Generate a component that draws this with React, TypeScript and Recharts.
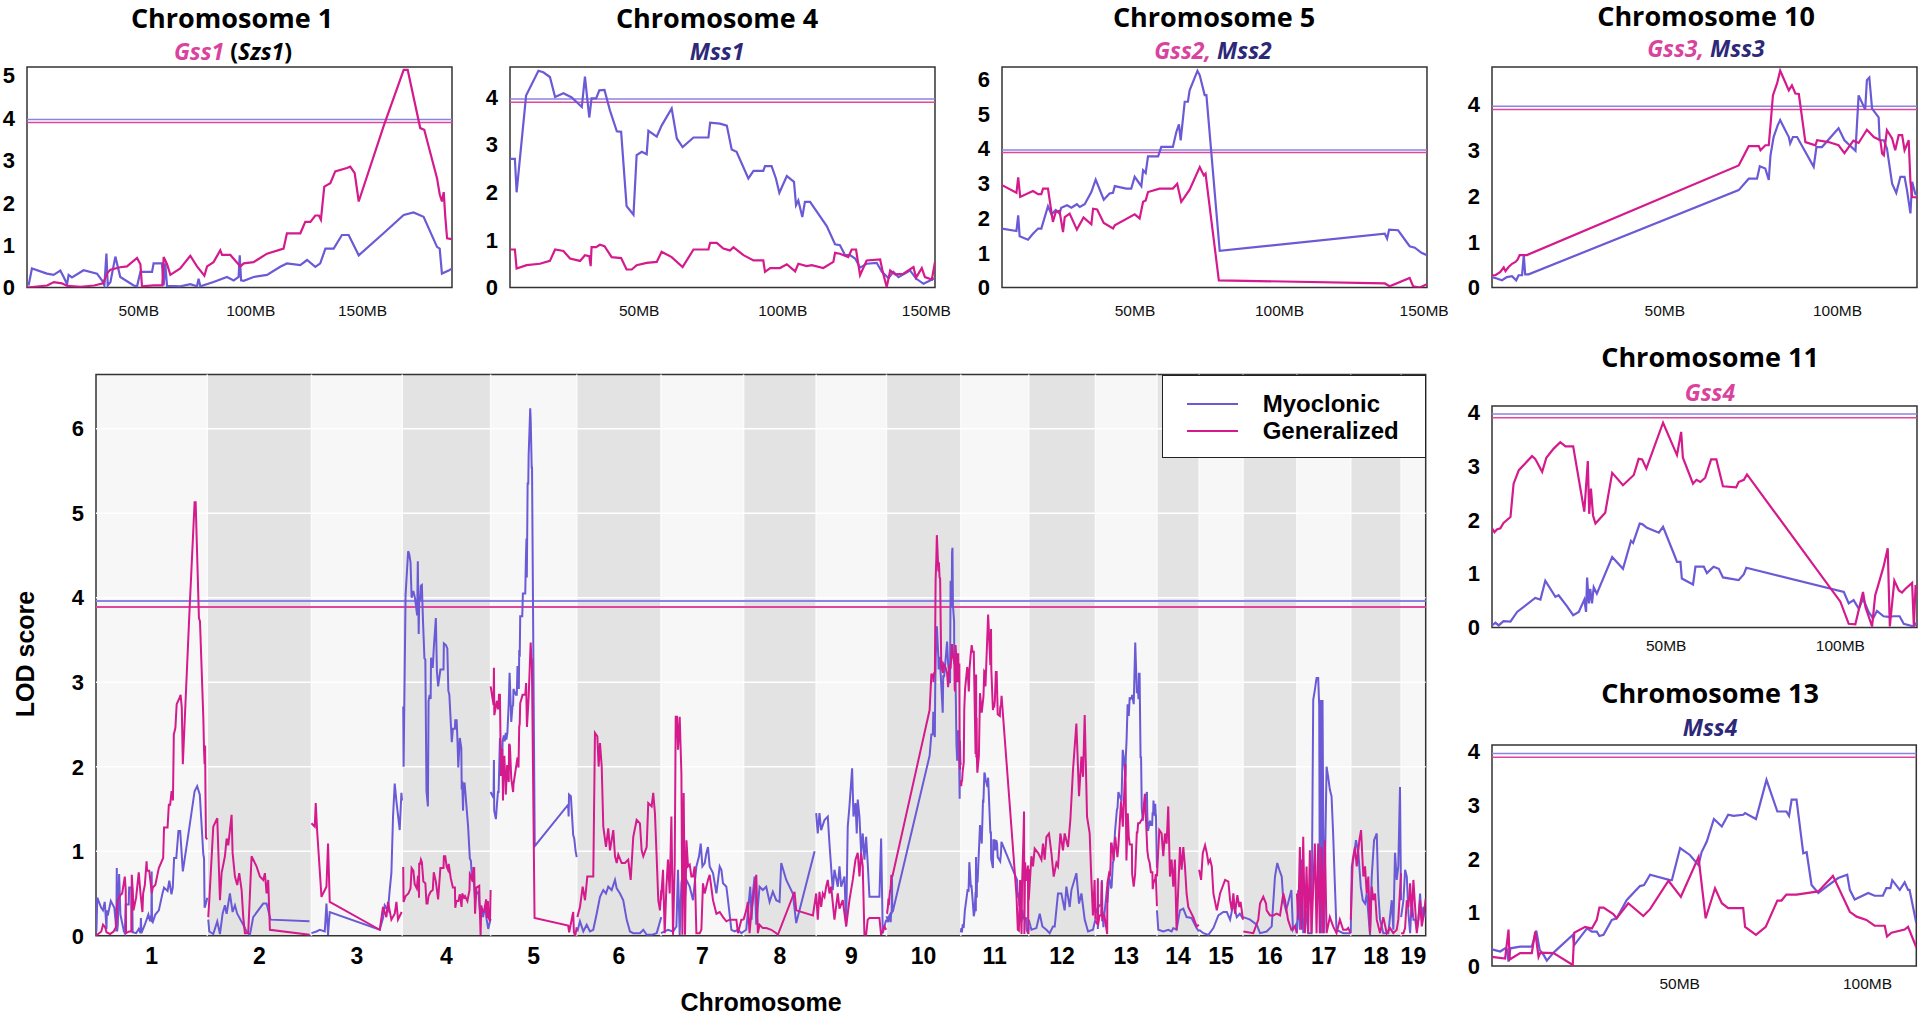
import React from 'react';
import { LineChart, Line, XAxis, YAxis, ReferenceLine, ReferenceArea } from 'recharts';

type Pt = [number, number];

const MYO = '#6a5ad6';
const GEN = '#d41a8c';
const MYO_THR = '#8c82e3';
const GEN_THR = '#e0479b';
const ARIAL = "'Liberation Sans', Arial, Helvetica, sans-serif";
const TITLE = "'Open Sans', 'Liberation Sans', sans-serif";

// significance thresholds
const myoThreshold = 3.96;
const genThreshold = 3.89;

// chromosome lengths used on the genome-wide axis (Mb)
const chrNames = ['1', '2', '3', '4', '5', '6', '7', '8', '9', '10', '11', '12', '13', '14', '15', '16', '17', '18', '19'];
const chrLen = [190, 178, 155, 151, 147, 144, 141, 124, 120, 127, 116, 114, 105, 72, 75, 92, 92, 86, 42];

// ---- chromosomes with a zoomed panel (x in Mb of the panel) ----
const chr1Myo: Pt[] = [[0.7,0.05],[2.2,0.45],[8.9,0.33],[11.9,0.3],[14.9,0.4],[16.4,0.25],[17.9,0.08],[18.6,0.3],[20.1,0.24],[25.3,0.41],[31.3,0.33],[33.5,0.17],[34.6,0.05],[35.5,0.8],[36.1,0.05],[37.3,0.13],[39.5,0.73],[41.7,0.25],[47.7,0.05],[49.2,0.03],[50.7,0.37],[55.9,0.37],[56.6,0.57],[60.3,0.57],[61.1,0.05],[61.8,0.57],[62.6,0.04],[68.5,0.03],[73,0.08],[76,0.03],[76.7,0.21],[77.5,0.03],[83.4,0.13],[89.4,0.25],[92.4,0.17],[94.6,0.25],[95.1,0.76],[95.7,0.17],[96.9,0.16],[101.3,0.25],[107.3,0.3],[113.2,0.49],[116.2,0.57],[122.2,0.53],[125.2,0.65],[128.9,0.49],[131.1,0.57],[133.4,0.92],[137.1,0.92],[140.8,1.24],[143.8,1.24],[148.3,0.76],[159.4,1.28],[168.4,1.71],[172.8,1.77],[177.3,1.67],[183.3,0.96],[184.5,0.92],[185.5,0.33],[188.5,0.4],[190,0.45]];
const chr1Gen: Pt[] = [[0,0],[9,0.05],[12,0.13],[15.6,0.1],[18,0.04],[24,0.02],[30,0.05],[34,0.1],[36,0.35],[37.3,0.42],[41.7,0.48],[44.7,0.5],[49.2,0.7],[50.7,0.55],[51.4,0.03],[56.6,0.05],[60.5,0.05],[61.1,0.72],[62.6,0.55],[64.1,0.3],[68.5,0.45],[73,0.75],[76,0.5],[79.3,0.28],[80.5,0.5],[83.4,0.6],[86.4,0.88],[87.2,0.77],[90.9,0.77],[95.4,0.5],[96.9,0.57],[101.3,0.6],[107.3,0.8],[114.7,0.92],[116.2,1.28],[122.2,1.28],[124.4,1.55],[126.7,1.55],[128.9,1.7],[130.5,1.7],[131.4,1.6],[132.9,2.38],[135.6,2.46],[137.8,2.74],[143,2.82],[144.5,2.85],[146.5,2.7],[148.3,2.03],[159.4,3.8],[168.4,5.13],[170.2,5.13],[175.8,3.76],[177.6,3.72],[183.3,2.58],[184.5,2.2],[185.5,2.03],[186.3,2.25],[187,1.67],[187.8,1.16],[190,1.14]];

const chr4Myo: Pt[] = [[5,2.7],[6.7,2.7],[7.3,2.0],[10.6,4.03],[14.9,4.55],[16.6,4.52],[18.9,4.42],[20.7,4.0],[23.6,4.08],[26.5,3.99],[30,3.79],[31.1,4.43],[32.6,3.57],[33.4,3.97],[35,3.97],[36.1,4.14],[37.9,4.15],[39.8,3.72],[42.2,3.28],[43.7,3.27],[45.6,1.71],[48,1.53],[49.1,2.78],[50.9,2.85],[52.6,2.8],[53.2,3.29],[56.1,3.17],[57.8,3.4],[61.3,3.76],[63.1,3.13],[65.1,2.95],[68.9,3.15],[74.1,3.15],[74.7,3.46],[78.1,3.44],[80.5,3.4],[82.2,2.9],[83.9,2.85],[88,2.29],[89.8,2.45],[93.2,2.45],[93.8,2.55],[96.1,2.55],[97.6,2.29],[98.8,1.99],[101.4,2.34],[103.9,2.22],[104.6,1.73],[105.4,1.83],[106.8,1.48],[107.7,1.8],[109.5,1.8],[115.3,1.29],[118.2,0.91],[119.9,0.89],[121.7,0.68],[123.4,0.68],[125.2,0.61],[126.9,0.42],[129.2,0.5],[132.7,0.52],[134.5,0.33],[136.8,0.2],[138.5,0.33],[140.3,0.22],[144.3,0.36],[146.4,0.19],[149,0.08],[151.3,0.15],[153,0.2]];
const chr4Gen: Pt[] = [[5,0.8],[6.7,0.8],[7.3,0.4],[10.8,0.47],[15.4,0.5],[18.9,0.56],[20.7,0.8],[23.6,0.77],[25.9,0.61],[29.4,0.56],[31.1,0.68],[32.6,0.66],[33.1,0.45],[33.4,0.85],[35,0.85],[36.3,0.9],[37.9,0.87],[40.4,0.64],[43.7,0.62],[45.6,0.38],[47.4,0.38],[49.1,0.47],[52.6,0.52],[56.1,0.54],[57.8,0.75],[61.3,0.64],[65.1,0.43],[68.9,0.8],[74.1,0.8],[74.7,0.94],[77,0.94],[79.3,0.82],[81.6,0.78],[82.8,0.85],[86.3,0.68],[89.8,0.57],[93.2,0.57],[93.8,0.33],[95.6,0.41],[99,0.41],[101.4,0.49],[104.3,0.34],[105.4,0.5],[108.3,0.45],[110.1,0.47],[114.1,0.41],[117.6,0.54],[118.2,0.73],[119.9,0.71],[122.8,0.64],[124,0.8],[125.5,0.8],[126.9,0.26],[129.2,0.57],[133.9,0.59],[134.8,0.33],[136.2,0.01],[137.4,0.36],[139.1,0.28],[142,0.29],[145.5,0.43],[146.4,0.21],[148.4,0.41],[149.5,0.22],[151.9,0.17],[153,0.54]];

const chr5Myo: Pt[] = [[4,1.7],[9,1.63],[9.6,2.08],[10.1,1.48],[13,1.38],[14.7,1.55],[16.5,1.7],[17.6,1.7],[19.9,2.34],[21.1,2.11],[22.6,2.23],[23.9,2.13],[24.5,2.3],[26.5,2.37],[28,2.3],[29.9,2.4],[30.9,2.32],[32.6,2.4],[34.9,2.75],[36.4,3.11],[39.2,2.53],[41.2,2.71],[42.4,2.73],[43,2.92],[47,2.85],[48.7,2.85],[49.9,3.19],[52.2,2.92],[52.8,3.38],[53.7,3.3],[54.5,3.78],[58,3.78],[59.1,4.05],[63.1,4.05],[64.3,4.48],[65.2,4.7],[65.8,4.24],[67.2,5.35],[68.3,5.35],[68.9,5.68],[71.6,6.24],[72.4,6.11],[74.1,5.54],[74.7,5.54],[79.3,1.06],[136.4,1.55],[137.2,1.41],[137.9,1.67],[141,1.65],[145,1.19],[146.8,1.15],[149.1,1.0],[151,0.93]];
const chr5Gen: Pt[] = [[4,2.95],[9,2.73],[9.6,3.17],[10.3,2.61],[14.7,2.78],[16.5,2.69],[17.6,2.69],[18.2,2.85],[19.9,2.85],[21.6,1.89],[22.6,2.18],[23.9,2.21],[25.1,1.6],[25.7,2.03],[27.4,2.13],[29.9,1.67],[32.2,2.02],[34.9,1.82],[35.5,2.27],[36.9,2.25],[39.2,1.86],[42.4,1.7],[43,1.79],[49.9,2.11],[51.6,1.99],[52.8,2.47],[53.7,2.51],[54.5,2.75],[58.5,2.85],[63.1,2.85],[64.6,2.99],[66,2.47],[67.2,2.61],[68.9,2.82],[72.4,3.47],[73.8,3.23],[74.4,3.28],[79,0.21],[136.4,0.12],[138.1,0.04],[145,0.28],[146.2,0.04],[148.5,0],[151,0.1]];

const chr10Myo: Pt[] = [[0,0.23],[1.4,0.2],[2.9,0.16],[4.3,0.23],[5.8,0.25],[7,0.16],[7.7,0.27],[8.7,0.27],[9.2,0.71],[9.6,0.29],[10.6,0.29],[71.4,2.13],[74.3,2.38],[76.7,2.38],[77.5,2.65],[79.1,2.6],[80.1,2.35],[80.6,2.89],[81.5,3.29],[82.7,3.55],[83.4,3.66],[84.4,3.51],[85.9,3.29],[86.3,3.15],[87.1,3.29],[88.3,3.29],[93.1,2.64],[93.9,3.07],[95.5,3.07],[100.3,3.48],[102,3.22],[105.2,2.99],[106.1,4.2],[108,3.89],[108.5,4.53],[109.2,4.59],[110,3.91],[111.9,3.72],[112.2,3.22],[113.4,3.22],[114.3,3.04],[115.8,2.27],[117,2.07],[118.2,2.42],[119.4,2.42],[120.1,2.13],[121.1,1.62],[121.6,2.31],[122.5,2.05],[123,2.02]];
const chr10Gen: Pt[] = [[0,0.27],[1,0.27],[2.4,0.34],[3.4,0.44],[3.9,0.36],[4.8,0.45],[5.8,0.52],[6.8,0.56],[7.4,0.61],[8,0.71],[9.2,0.71],[10.1,0.71],[71.4,2.67],[74.3,3.09],[77.2,3.09],[77.7,3.0],[79.1,3.11],[80.1,3.11],[80.6,3.55],[81.3,4.2],[82.5,4.46],[83.4,4.74],[84.4,4.57],[85.9,4.31],[86.8,4.42],[87.8,4.24],[88.8,4.23],[90.7,3.18],[93.6,3.11],[94.1,3.22],[97.4,3.18],[100.3,3.11],[102,2.94],[104.6,3.21],[106.1,3.16],[108.5,3.45],[110.5,3.29],[112.4,3.22],[112.9,2.93],[113.4,2.89],[114.3,3.44],[115.8,3.26],[116.7,3.0],[117.7,3.33],[118.7,3.33],[119.4,3.0],[120.6,3.22],[121.1,2.31],[121.6,1.98],[123,1.97]];

const chr11Myo: Pt[] = [[0,0.04],[1,0.09],[1.9,0.04],[3.3,0.12],[5.3,0.11],[7.2,0.29],[12.4,0.55],[13.9,0.52],[15.3,0.87],[18.2,0.57],[19.1,0.6],[21.5,0.4],[23.3,0.23],[24.9,0.29],[26.5,0.52],[27,0.29],[27.3,0.93],[27.8,0.45],[28.2,0.72],[28.7,0.45],[29.2,0.75],[30.1,0.63],[34.5,1.31],[37.6,1.09],[39.9,1.61],[40.5,1.57],[42.4,1.93],[43.1,1.92],[44.5,1.85],[47.9,1.76],[49.1,1.87],[52.2,1.37],[53.1,1.22],[54.1,1.22],[54.5,0.91],[57.7,0.8],[58.4,1.13],[60.8,1.13],[61.7,1.01],[63.6,1.13],[65.1,1.09],[66.3,0.93],[70.8,0.88],[72.3,0.99],[73,1.11],[101,0.66],[102.4,0.45],[103.8,0.51],[105.3,0.35],[106.5,0.54],[108.1,0.29],[109.4,0.17],[110.5,0.31],[112.4,0.21],[113.9,0.2],[115.3,0.21],[117,0.21],[118.2,0.07],[121.1,0.02],[122,0.1]];
const chr11Gen: Pt[] = [[0,1.84],[0.7,1.77],[1.4,1.82],[2.4,1.84],[3.3,1.94],[5.3,2.05],[6.2,2.67],[7.7,2.92],[11.5,3.18],[12.4,3.13],[14.4,2.89],[15.6,3.15],[17.7,3.32],[19.6,3.44],[21.1,3.36],[23.3,3.36],[26.5,2.15],[27.5,3.09],[27.9,2.11],[28.4,2.58],[29,2.08],[29.7,1.93],[32.5,2.13],[34.5,2.87],[37.6,2.64],[40.7,2.83],[42.1,3.13],[43.1,3.12],[44.3,2.95],[49.1,3.8],[53.1,3.2],[54.3,3.63],[54.8,3.15],[57.7,2.67],[58.7,2.74],[59.8,2.7],[61.2,2.78],[62.9,3.12],[64.4,3.12],[66.3,2.62],[70.1,2.6],[70.8,2.7],[72.3,2.74],[73.2,2.84],[100,0.48],[102.4,0.07],[104.3,0.06],[106.5,0.66],[107.2,0.38],[109.1,0.02],[110,0.6],[110.7,0.75],[112.4,1.13],[113.6,1.47],[114.2,0.02],[115.5,0.87],[116.8,0.69],[117.7,0.65],[118.7,0.72],[120.6,0.83],[121.1,0.02],[121.6,0.79],[122,0.57]];

const chr13Myo: Pt[] = [[0,0.31],[2.2,0.27],[3.5,0.33],[4,0.31],[4.4,0.08],[4.9,0.33],[7.5,0.36],[10.6,0.36],[11.8,0.66],[12.7,0.3],[13.7,0.21],[14.6,0.1],[16.4,0.25],[21.5,0.58],[21.9,0.39],[25.3,0.7],[26.6,0.64],[27.9,0.64],[28.6,0.56],[29.7,0.58],[31.9,0.86],[33.2,0.89],[35.9,1.23],[39.4,1.49],[40.5,1.51],[42.1,1.7],[47.4,1.6],[47.9,1.6],[50.1,2.2],[52.7,2.07],[55,1.88],[55.8,2.12],[57.2,2.32],[59.1,2.74],[61.2,2.6],[62.9,2.82],[64.3,2.8],[66.9,2.82],[67.4,2.85],[70.3,2.74],[73.1,3.47],[76,2.88],[78.4,2.88],[79.1,2.8],[79.8,3.1],[81.1,3.1],[82.9,2.1],[83.8,2.12],[85.1,1.51],[86.9,1.36],[89.1,1.48],[92.2,1.64],[94.6,1.7],[95.3,1.42],[96.6,1.24],[100.2,1.36],[101.9,1.31],[104.1,1.31],[105,1.45],[106.1,1.45],[106.6,1.6],[108.6,1.42],[109.9,1.56],[110.8,1.42],[111.2,1.42],[113,0.8]];
const chr13Gen: Pt[] = [[0,0.17],[3.5,0.14],[4.4,0.68],[4.7,0.12],[7.5,0.24],[10.6,0.24],[11.5,0.64],[12.4,0.17],[12.9,0.25],[16.4,0.24],[21.5,0.02],[21.9,0.62],[24.8,0.73],[26.6,0.7],[27.9,0.86],[28.6,1.09],[29.7,1.09],[32.3,0.97],[33.2,0.89],[36.3,1.17],[40.3,0.93],[42.1,1.06],[47,1.59],[50.3,1.29],[55,2.03],[56.9,0.89],[59.4,1.45],[61.2,1.17],[62.9,1.08],[66.9,1.08],[67.4,0.73],[70.3,0.58],[72.9,0.73],[76,1.22],[77.1,1.22],[78.4,1.33],[81.1,1.33],[83.8,1.36],[86.9,1.39],[90.8,1.68],[95.3,1.01],[97.1,0.92],[99.7,0.86],[101.9,0.75],[104.6,0.75],[105.2,0.55],[106.4,0.62],[109.9,0.68],[110.8,0.73],[113,0.35]];

// ---- remaining chromosomes (x in Mb along the chromosome) ----
const chr2Myo: Pt[] = [[1.7,0.19],[3.5,0.05],[10.3,0.02],[17.1,0.17],[21.7,0.02],[26.2,0.26],[30.2,0.36],[33.1,0.26],[38.7,0.5],[43.3,0.28],[47.3,0.36],[51.2,0.26],[61.5,0.13],[67.2,0.05],[72.9,0.01],[78.5,0.22],[95.6,0.38],[101.3,0.38],[108.2,0.19],[174.6,0.17]];
const chr2Gen: Pt[] = [[1.7,0.22],[3.5,0.42],[10.3,1.29],[17.1,1.39],[21.7,0.42],[24.5,0.74],[30.2,0.94],[33.1,1.15],[35.9,1.07],[38.7,1.25],[41.6,1.43],[43.3,0.98],[47.3,0.7],[51.2,0.6],[54.6,0.74],[58.7,0.54],[61.5,0.22],[64.3,0.03],[70,0.03],[75.7,0.94],[84.2,0.82],[89.9,0.7],[95.6,0.66],[98.5,0.74],[101.3,0.5],[104.1,0.66],[107,0.07],[175,0.01]];
const chr3Myo: Pt[] = [[0,0.03],[8.5,0.05],[14.2,0.07],[22.7,0.05],[25.6,0.38],[28.3,0.01],[31.2,0.28],[116.6,0.07],[122.2,0.21],[125.1,0.36],[130.7,0.3],[133.6,0.54],[136.5,0.74],[139.3,1.41],[142.2,1.8],[145.1,1.59],[150.7,1.25],[153.6,1.69],[154.6,1.6]];
const chr3Gen: Pt[] = [[0,1.33],[5.6,1.29],[7.3,1.57],[9.6,1.25],[17.1,0.46],[19.8,0.5],[25.6,0.58],[28.3,1.09],[31.2,0.4],[116.6,0.07],[122.2,0.34],[128,0.22],[130.7,0.4],[136.5,0.19],[142.2,0.26],[145.1,0.4],[147.8,0.19],[154,0.28]];
const chr6Myo: Pt[] = [[1.1,0.05],[5.6,0.17],[11.3,0.05],[17.1,0.13],[22.7,0.05],[28.3,0.07],[34.1,0.26],[39.8,0.46],[45.4,0.54],[50,0.5],[53.9,0.58],[59.7,0.54],[65.4,0.66],[68.3,0.56],[73.9,0.5],[79.5,0.42],[85.3,0.19],[91,0.05],[96.6,0.03],[108,0.03],[113.7,0.07],[119.5,0.01],[128,0.01],[136.5,0.03],[144.4,0.22]];
const chr6Gen: Pt[] = [[1.1,0.22],[5.6,0.34],[10.2,0.58],[14.2,0.42],[18.1,0.7],[28.3,0.7],[31.2,2.4],[35.2,2.36],[37.5,2.0],[39.8,2.28],[42.7,2.0],[45.4,1.29],[50,1.05],[53.9,1.27],[56.8,1.01],[62.5,1.25],[65.4,0.94],[68.3,0.86],[71,0.96],[76.8,0.86],[82.4,0.86],[88,0.9],[92.2,0.66],[96.6,1.17],[102.4,1.37],[108,1.33],[110.9,1.01],[113.7,0.94],[119.5,1.05],[122.2,1.57],[128,1.53],[130.7,1.69],[133.6,1.45],[136.5,0.94],[139.3,0.42],[142.2,0.3],[144.4,0.54]];
const chr7Myo: Pt[] = [[0,0.03],[6.3,0.05],[11.9,0.07],[20.5,0.05],[26.3,0.11],[29,0.78],[31.9,0.01],[34.8,0.62],[37.5,0.74],[40.5,0.42],[43.4,0.66],[49,0.58],[54.6,0.42],[60.4,0.82],[64.9,0.94],[67.8,1.09],[70.7,0.82],[74.6,0.86],[77.5,0.98],[80.2,1.05],[83.1,0.82],[88.8,0.74],[94.6,0.5],[100.2,0.82],[103.1,0.78],[105.9,0.62],[111.6,0.58],[114.4,0.42],[120.2,0.07],[125.8,0.05],[131.4,0.07],[137.2,0.03],[141.1,0.05]];
const chr7Gen: Pt[] = [[0,0.42],[3.4,0.78],[6.3,0.03],[9.2,0.58],[11.9,0.9],[14.8,0.5],[17.7,1.41],[20.5,0.01],[23.4,0.86],[25.1,2.59],[27.3,2.59],[29,2.2],[31.9,2.59],[34.8,1.92],[36.5,0.01],[38.7,1.69],[41,0.01],[43.4,1.13],[46.1,0.82],[49,0.84],[51.9,0.7],[54.6,0.7],[57.5,0.82],[60.4,0.03],[66.1,0.03],[68.9,0.07],[71.7,0.62],[74.6,0.5],[80.2,0.66],[83.1,0.72],[88.8,0.42],[94.6,0.26],[100.2,0.28],[105.9,0.22],[111.6,0.17],[117.3,0.19],[122.9,0.19],[128.7,0.19],[131.4,0.03],[137.2,0.19],[141.1,0.19]];
const chr8Myo: Pt[] = [[0,0.05],[4.6,0.07],[11.4,0.58],[13.7,0.19],[15.9,0.5],[18.8,0.7],[21.7,0.13],[27.3,0.58],[32.9,0.54],[38.7,0.58],[44.4,0.4],[50,0.52],[55.8,0.42],[61.4,0.4],[64.3,0.86],[72.9,0.66],[84.1,0.5],[89.9,0.15],[121.3,1.0]];
const chr8Gen: Pt[] = [[0,0.19],[4.6,0.3],[7.3,0.4],[10.2,0.03],[13.1,0.26],[15.9,0.42],[18.8,0.58],[21.7,0.72],[24.4,0.03],[27.3,0.13],[32.9,0.09],[38.7,0.09],[47.3,0.07],[55.8,0.03],[58.5,0.01],[87,0.52],[89.9,0.3],[118.4,0.24],[124,0.5]];
const chr9Myo: Pt[] = [[0,1.45],[2.7,1.21],[5.6,1.45],[8.5,1.25],[14.2,1.37],[19.8,1.41],[22.7,1.09],[28.3,0.54],[31.2,0.78],[36.9,0.58],[39.8,0.82],[42.7,0.58],[48.3,0.7],[51.2,0.11],[53.9,1.29],[56.8,1.53],[61.4,1.98],[63.7,1.41],[67.1,1.57],[69.3,1.21],[71,1.61],[73.9,1.41],[76.8,0.98],[79.5,1.21],[82.4,0.9],[85.3,1.17],[88,0.86],[91,0.46],[108,0.46],[110.9,1.15],[113.7,0.03],[119.5,0.19]];
const chr9Gen: Pt[] = [[0,0.5],[2.7,0.19],[5.6,0.52],[8.5,0.34],[11.3,0.5],[14.2,0.46],[17.1,0.58],[19.8,0.66],[22.7,0.5],[25.6,0.58],[31.2,0.19],[36.9,0.5],[39.8,0.32],[45.4,0.42],[51.2,0.11],[56.8,0.42],[62.5,0.66],[67.1,0.9],[71,0.98],[73.9,0.7],[76.8,0.98],[79.5,0.82],[82.4,0.01],[85.3,0.01],[88,0.19],[91,0.21],[108,0.21],[110.9,0.01],[116.6,0.11],[119.5,0.07]];
const chr12Myo: Pt[] = [[0,0.19],[4.6,0.07],[13.1,0.09],[18.8,0.26],[23.4,0.11],[30.2,0.07],[35.8,0.03],[41.5,0.11],[44.4,0.11],[50,0.5],[55.8,0.5],[61.4,0.3],[64.3,0.58],[70,0.34],[72.9,0.54],[81.4,0.74],[85.9,0.38],[90,0.5],[95.6,0.19],[101.3,0.05],[109.7,0.07],[113.8,0.19]];
const chr12Gen: Pt[] = [[0,0.42],[4.6,0.94],[7.3,0.82],[10.2,1.03],[15.9,0.98],[21.7,0.9],[24.4,1.09],[27.3,0.9],[30.2,1.17],[34.6,1.21],[38.7,0.98],[42.7,0.7],[47.3,0.86],[50,0.82],[54.1,1.21],[58.5,1.01],[61.4,1.21],[67.1,1.05],[71.1,1.37],[75.6,1.96],[81.4,2.51],[85.9,1.65],[90,2.12],[92.7,1.88],[95.6,2.61],[99.6,1.41],[104.1,1.21],[107,0.66],[109.7,0.24],[112.6,0.66],[113.8,0.19]];
const chr14Myo: Pt[] = [[0,0.3],[2.3,0.07],[10.8,0.05],[19.3,0.07],[25,0.05],[27.9,0.09],[33.5,0.07],[39.3,0.3],[45,0.32],[50.6,0.22],[59.1,0.21],[67.7,0.09],[71.7,0.05]];
const chr14Gen: Pt[] = [[0,0.7],[4,1.25],[7.9,1.21],[10.8,0.94],[13.7,1.21],[16.5,1.09],[19.3,1.53],[22.2,0.7],[25,0.9],[27.9,0.58],[30.7,0.9],[33.5,0.07],[39.3,1.05],[42.1,0.78],[45,1.05],[47.8,0.82],[50.6,0.5],[53.5,0.34],[56.3,0.3],[62,0.22],[67.7,0.11],[71.7,0.13]];
const chr15Myo: Pt[] = [[0,0.07],[7.3,0.03],[15.9,0.01],[24.4,0.09],[32.9,0.24],[41.4,0.28],[47.3,0.28],[52.9,0.19],[58.5,0.38],[64.3,0.22],[69.6,0.26],[75,0.2]];
const chr15Gen: Pt[] = [[0,0.78],[3.4,0.66],[6.3,0.98],[10.2,1.07],[13.1,0.98],[15.9,0.86],[18.8,0.9],[21.7,0.82],[24.4,0.5],[30.2,0.3],[35.8,0.5],[44.4,0.66],[50,0.64],[52.9,0.42],[55.8,0.3],[58.5,0.5],[61.4,0.26],[65.3,0.48],[68.7,0.34],[70.8,0.4],[75,0.19]];
const chr16Myo: Pt[] = [[0.6,0.22],[12,0.19],[23.4,0.13],[29,0.03],[40.4,0.05],[49,0.11],[54.6,0.7],[58.5,0.86],[61.9,0.78],[66.1,0.7],[68.8,0.42],[73.4,0.3],[76.8,0.38],[82.6,0.54],[85.3,0.07],[92,0.15]];
const chr16Gen: Pt[] = [[0.6,0.05],[17.6,0.03],[26.1,0.19],[29,0.38],[34.6,0.46],[39.3,0.38],[40.4,0.3],[46.1,0.24],[51.7,0.24],[57.5,0.26],[63.2,0.24],[68.8,0.5],[71.7,0.42],[76.8,0.19],[82.6,0.07],[88.8,0.11],[92,0.03]];
const chr17Myo: Pt[] = [[0,0.03],[2.3,0.54],[5.1,0.07],[8,0.9],[10.8,0.03],[15.4,0.3],[19.3,0.03],[25,0.03],[27.9,2.79],[30.7,2.91],[33.6,3.05],[36.4,3.05],[38.1,2.72],[39.3,0.03],[41,2.79],[42.1,0.03],[43.8,2.79],[46.1,0.03],[50.7,2.0],[53.4,1.88],[56.3,1.73],[59.2,1.65],[61.9,1.21],[64.8,0.62],[67.7,0.07],[79.1,0.03],[91.7,0.03]];
const chr17Gen: Pt[] = [[0,0.5],[2.3,0.19],[5.1,1.05],[8,0.07],[10.8,1.17],[13.7,0.03],[16.5,0.82],[19.3,0.03],[22.2,1.01],[25,0.03],[30.7,1.09],[33.6,0.03],[36.4,1.09],[39.3,0.03],[42.1,1.05],[44.9,0.03],[47.8,1.13],[50.7,0.03],[56.3,0.22],[61.9,0.11],[67.7,0.03],[73.4,0.19],[79.1,0.07],[84.9,0.07],[87.6,0.09],[91.7,0.03]];
const chr18Myo: Pt[] = [[0,0.03],[1.7,0.82],[4.4,0.9],[9,1.13],[13,0.98],[17.1,0.58],[20.5,0.42],[24.4,0.38],[27.3,0.5],[32.9,0.01],[35.8,0.7],[39.8,1.13],[44.4,1.21],[47.1,0.5],[50,0.19],[55.6,0.03],[64.2,0.03],[70,0.42],[72.7,0.07],[75.6,0.98],[78.5,0.66],[81.2,0.82],[84.1,1.76],[85.9,0.42]];
const chr18Gen: Pt[] = [[0,0.19],[3.4,0.9],[7.3,1.05],[10.2,0.82],[14.7,1.13],[17.6,1.25],[21.5,0.7],[24.4,0.82],[27.3,0.5],[30,0.7],[32.9,0.03],[35.8,0.58],[38.6,0.42],[41.5,0.5],[44.4,0.19],[50,0.03],[55.6,0.22],[61.4,0.03],[67.1,0.09],[72.7,0.03],[78.5,0.07],[81.2,0.19],[85.9,0.74]];
const chr19Myo: Pt[] = [[0,0.22],[4,0.42],[6.8,0.78],[9.7,0.7],[12.5,0.26],[15.4,0.03],[18.2,0.42],[21,0.19],[23.9,0.19],[26.8,0.07],[29.5,0.19],[32.4,0.5],[35.3,0.19],[38,0.34],[42,0.22]];
const chr19Gen: Pt[] = [[0,0.03],[4,0.03],[6.8,0.09],[9.7,0.42],[12.5,0.34],[15.4,0.62],[18.2,0.22],[21,0.66],[23.9,0.34],[26.8,0.03],[29.5,0.19],[32.4,0.42],[35.3,0.11],[38,0.22],[42,0.44]];

const myoByChr = [chr1Myo, chr2Myo, chr3Myo, chr4Myo, chr5Myo, chr6Myo, chr7Myo, chr8Myo, chr9Myo, chr10Myo, chr11Myo, chr12Myo, chr13Myo, chr14Myo, chr15Myo, chr16Myo, chr17Myo, chr18Myo, chr19Myo];
const genByChr = [chr1Gen, chr2Gen, chr3Gen, chr4Gen, chr5Gen, chr6Gen, chr7Gen, chr8Gen, chr9Gen, chr10Gen, chr11Gen, chr12Gen, chr13Gen, chr14Gen, chr15Gen, chr16Gen, chr17Gen, chr18Gen, chr19Gen];

// x range of each zoomed panel (Mb)
const panelRange: Record<number, [number, number]> = { 1: [0, 190], 4: [5, 153], 5: [4, 151], 10: [0, 123], 11: [0, 122], 13: [0, 113] };

const chrStart = chrLen.map((_, i) => chrLen.slice(0, i).reduce((a, b) => a + b, 0));
const genomeLen = chrLen.reduce((a, b) => a + b, 0);
const chrMid = chrLen.map((l, i) => chrStart[i] + l / 2);

function genome(series: Pt[][]) {
  const out: { pos: number; lod: number | null }[] = [];
  series.forEach((pts, i) => {
    const [a, b] = panelRange[i + 1] || [0, chrLen[i]];
    pts.forEach(([x, y]) => out.push({ pos: chrStart[i] + ((x - a) / (b - a)) * chrLen[i], lod: y }));
    out.push({ pos: chrStart[i] + chrLen[i], lod: null });
  });
  return out;
}

const toXY = (pts: Pt[]) => pts.map(([x, y]) => ({ x, y }));

const mainTicks = [0, 1, 2, 3, 4, 5, 6];
const mainYMax = 6.64;

function Detail(props: {
  left: number; top: number; w: number; h: number;
  xDomain: [number, number]; xTicks: number[]; yMax: number; yTicks: number[];
  myo: Pt[]; gen: Pt[]; xGap: number;
}) {
  const { left, top, w, h, xDomain, xTicks, yMax, yTicks, myo, gen, xGap } = props;
  const yw = 44, mt = 14, xh = 40, mr = 30;
  return (
    <div style={{ position: 'absolute', left: left - yw, top: top - mt }}>
      <LineChart width={w + yw + mr} height={h + mt + xh} margin={{ top: mt, right: mr, bottom: 0, left: 0 }}>
        <XAxis type="number" dataKey="x" domain={xDomain} ticks={xTicks} interval={0} allowDataOverflow
          tickFormatter={(v: number) => `${v}MB`} axisLine={false} tickLine={false} tickSize={0} tickMargin={xGap} height={xh}
          tick={{ fontSize: 15.5, fill: '#111', fontFamily: ARIAL }} />
        <YAxis type="number" domain={[0, yMax]} ticks={yTicks} interval={0} allowDataOverflow width={yw}
          axisLine={false} tickLine={false} tickSize={0} tickMargin={12}
          tick={{ fontSize: 22, fontWeight: 700, fill: '#000', fontFamily: ARIAL }} />
        <ReferenceLine y={myoThreshold} stroke={MYO_THR} strokeWidth={1.5} />
        <ReferenceLine y={genThreshold} stroke={GEN_THR} strokeWidth={1.5} />
        <Line data={toXY(myo)} dataKey="y" type="linear" stroke={MYO} strokeWidth={2.2} dot={false} activeDot={false} isAnimationActive={false} />
        <Line data={toXY(gen)} dataKey="y" type="linear" stroke={GEN} strokeWidth={2.2} dot={false} activeDot={false} isAnimationActive={false} />
        <ReferenceArea x1={xDomain[0]} x2={xDomain[1]} y1={0} y2={yMax} fill="none" stroke="#333" strokeWidth={1.5} />
      </LineChart>
    </div>
  );
}

const Title = ({ cx, cy, children, size = 27, italic = false }: any) => (
  <div style={{
    position: 'absolute', left: cx, top: cy, transform: 'translate(-50%, -50%)', whiteSpace: 'nowrap',
    fontFamily: TITLE, fontWeight: 700, fontSize: size, fontStyle: italic ? 'italic' : 'normal', lineHeight: 1.1, color: '#000',
  }}>{children}</div>
);

const pink = { color: '#d9439d' };
const navy = { color: '#2d2878' };
const upright = { fontStyle: 'normal' as const };

export default function App() {
  const myoLine = genome(myoByChr);
  const genLine = genome(genByChr);
  return (
    <div style={{ position: 'absolute', left: 0, top: 0, width: 1920, height: 1016, background: '#fff', fontFamily: ARIAL }}>
      {/* zoomed panels */}
      <Title cx={232} cy={18}>Chromosome 1</Title>
      <Title cx={233} cy={52} size={23} italic><span style={pink}>Gss1</span> <span style={upright}>(</span>Szs1<span style={upright}>)</span></Title>
      <Detail left={26.7} top={66.7} w={425} h={220.6} xDomain={[0, 190]} xTicks={[50, 100, 150]} yMax={5.2} yTicks={[0, 1, 2, 3, 4, 5]} myo={chr1Myo} gen={chr1Gen} xGap={17} />

      <Title cx={717} cy={18}>Chromosome 4</Title>
      <Title cx={717} cy={52} size={23} italic><span style={navy}>Mss1</span></Title>
      <Detail left={510} top={66.7} w={425} h={220.6} xDomain={[5, 153]} xTicks={[50, 100, 150]} yMax={4.63} yTicks={[0, 1, 2, 3, 4]} myo={chr4Myo} gen={chr4Gen} xGap={17} />

      <Title cx={1214} cy={17}>Chromosome 5</Title>
      <Title cx={1213} cy={51} size={23} italic><span style={pink}>Gss2,</span> <span style={navy}>Mss2</span></Title>
      <Detail left={1002.3} top={66.7} w={425} h={220.6} xDomain={[4, 151]} xTicks={[50, 100, 150]} yMax={6.35} yTicks={[0, 1, 2, 3, 4, 5, 6]} myo={chr5Myo} gen={chr5Gen} xGap={17} />

      <Title cx={1706} cy={16}>Chromosome 10</Title>
      <Title cx={1706} cy={49} size={23} italic><span style={pink}>Gss3,</span> <span style={navy}>Mss3</span></Title>
      <Detail left={1491.7} top={66.7} w={425} h={220.6} xDomain={[0, 123]} xTicks={[50, 100]} yMax={4.82} yTicks={[0, 1, 2, 3, 4]} myo={chr10Myo} gen={chr10Gen} xGap={17} />

      <Title cx={1710} cy={357}>Chromosome 11</Title>
      <Title cx={1710} cy={393} size={23} italic><span style={pink}>Gss4</span></Title>
      <Detail left={1491.7} top={405.7} w={425} h={221.6} xDomain={[0, 122]} xTicks={[50, 100]} yMax={4.11} yTicks={[0, 1, 2, 3, 4]} myo={chr11Myo} gen={chr11Gen} xGap={12} />

      <Title cx={1710} cy={693}>Chromosome 13</Title>
      <Title cx={1710} cy={728} size={23} italic><span style={navy}>Mss4</span></Title>
      <Detail left={1491.7} top={745} w={424.3} h={221} xDomain={[0, 113]} xTicks={[50, 100]} yMax={4.12} yTicks={[0, 1, 2, 3, 4]} myo={chr13Myo} gen={chr13Gen} xGap={12} />

      {/* genome-wide scan */}
      <div style={{ position: 'absolute', left: 0, top: 340 }}>
        <LineChart width={1440} height={676} margin={{ top: 34.6, right: 14.3, bottom: 20.3, left: 0 }}>
          <XAxis type="number" dataKey="pos" domain={[0, genomeLen]} ticks={chrMid} interval={0} allowDataOverflow
            tickFormatter={(_v: number, i: number) => chrNames[i]} axisLine={false} tickLine={false} tickSize={0} tickMargin={12} height={60}
            tick={{ fontSize: 23, fontWeight: 700, fill: '#000', fontFamily: ARIAL }} />
          <YAxis type="number" domain={[0, mainYMax]} ticks={mainTicks} interval={0} allowDataOverflow width={96}
            axisLine={false} tickLine={false} tickSize={0} tickMargin={12}
            tick={{ fontSize: 22, fontWeight: 700, fill: '#000', fontFamily: ARIAL }} />
          {chrLen.map((l, i) => (
            <ReferenceArea key={`band${i}`} x1={chrStart[i]} x2={chrStart[i] + l} y1={0} y2={mainYMax}
              fill={i % 2 === 0 ? '#f7f7f7' : '#e3e3e3'} fillOpacity={1} stroke="none" />
          ))}
          {chrStart.slice(1).map((s, i) => (
            <ReferenceLine key={`sep${i}`} x={s} stroke="#fbfbfb" strokeWidth={1.5} />
          ))}
          {mainTicks.slice(1).map((t) => (
            <ReferenceLine key={`grid${t}`} y={t} stroke="#ffffff" strokeWidth={1.5} />
          ))}
          <ReferenceLine y={myoThreshold} stroke={MYO_THR} strokeWidth={2} />
          <ReferenceLine y={genThreshold} stroke={GEN_THR} strokeWidth={2} />
          <Line data={myoLine} dataKey="lod" type="linear" stroke={MYO} strokeWidth={2} dot={false} activeDot={false} connectNulls={false} isAnimationActive={false} />
          <Line data={genLine} dataKey="lod" type="linear" stroke={GEN} strokeWidth={2} dot={false} activeDot={false} connectNulls={false} isAnimationActive={false} />
          <ReferenceArea x1={0} x2={genomeLen} y1={0} y2={mainYMax} fill="none" stroke="#333" strokeWidth={1.5} />
        </LineChart>
      </div>

      <div style={{
        position: 'absolute', left: 25, top: 654, transform: 'translate(-50%, -50%) rotate(-90deg)',
        whiteSpace: 'nowrap', fontWeight: 700, fontSize: 25, lineHeight: 1,
      }}>LOD score</div>
      <div style={{
        position: 'absolute', left: 761, top: 1003, transform: 'translate(-50%, -50%)',
        whiteSpace: 'nowrap', fontWeight: 700, fontSize: 25, lineHeight: 1.1,
      }}>Chromosome</div>

      {/* legend */}
      <div style={{ position: 'absolute', left: 1161.7, top: 374.6, width: 262, height: 81, border: '1.5px solid #222', background: '#fff' }}>
        {[{ name: 'Myoclonic', c: MYO, y: 28 }, { name: 'Generalized', c: GEN, y: 55 }].map((it) => (
          <div key={it.name}>
            <div style={{ position: 'absolute', left: 24, top: it.y - 1, width: 51, height: 2.5, background: it.c }} />
            <div style={{ position: 'absolute', left: 100, top: it.y, transform: 'translateY(-50%)', fontWeight: 700, fontSize: 24, lineHeight: 1.1 }}>{it.name}</div>
          </div>
        ))}
      </div>
    </div>
  );
}
